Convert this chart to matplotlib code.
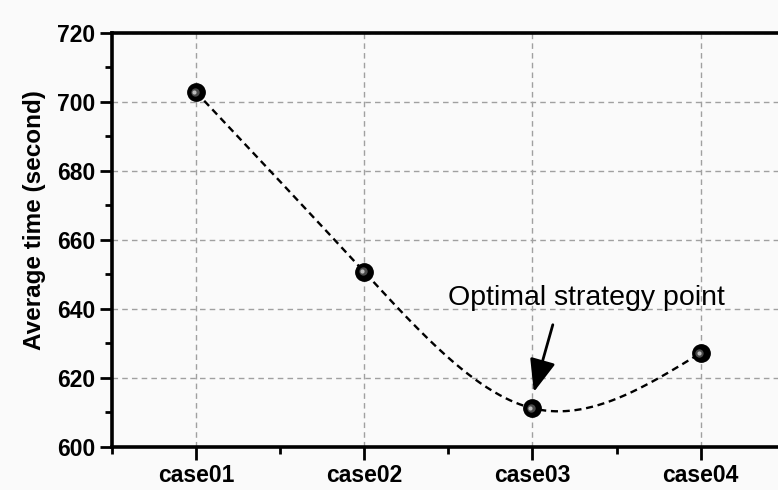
import matplotlib
matplotlib.use('Agg')

import numpy as np
import matplotlib.pyplot as plt
from matplotlib.transforms import offset_copy

# average run time per case
cases = ['case01', 'case02', 'case03', 'case04']
avg_time = [702.8, 650.7, 611.2, 627.2]

y_ticks = [600, 620, 640, 660, 680, 700, 720]

plt.rcParams['font.family'] = ['Liberation Sans', 'DejaVu Sans']


def natural_spline(x, y, xs):
    # natural cubic spline, evaluated at xs
    x = np.asarray(x, float)
    y = np.asarray(y, float)
    n = len(x)
    h = np.diff(x)
    A = np.zeros((n, n))
    b = np.zeros(n)
    A[0, 0] = A[-1, -1] = 1
    for i in range(1, n - 1):
        A[i, i - 1] = h[i - 1]
        A[i, i] = 2 * (h[i - 1] + h[i])
        A[i, i + 1] = h[i]
        b[i] = 6 * ((y[i + 1] - y[i]) / h[i] - (y[i] - y[i - 1]) / h[i - 1])
    M = np.linalg.solve(A, b)
    idx = np.clip(np.searchsorted(x, xs) - 1, 0, n - 2)
    x0, x1 = x[idx], x[idx + 1]
    hi = x1 - x0
    return (M[idx] * (x1 - xs) ** 3 / (6 * hi) + M[idx + 1] * (xs - x0) ** 3 / (6 * hi)
            + (y[idx] / hi - M[idx] * hi / 6) * (x1 - xs)
            + (y[idx + 1] / hi - M[idx + 1] * hi / 6) * (xs - x0))


fig = plt.figure(figsize=(7.78, 4.90), dpi=100, facecolor='#fafafa')
ax = fig.add_axes([0.144, 0.088, 0.856, 0.845])
ax.set_facecolor('#fafafa')

x = np.arange(1, len(cases) + 1)

xs = np.linspace(x[0], x[-1], 400)
ax.plot(xs, natural_spline(x, avg_time, xs), color='black', lw=1.7,
        ls=(0, (3, 2)), zorder=3)

# shaded ball markers
ax.plot(x, avg_time, 'o', ms=12.5, color='black', zorder=4)
hl1 = offset_copy(ax.transData, fig=fig, x=-1.5, y=0.5, units='dots')
ax.plot(x, avg_time, 'o', ms=6, color='#4a4a4a', mew=0, transform=hl1, zorder=5)
hl2 = offset_copy(ax.transData, fig=fig, x=-2, y=0.5, units='dots')
ax.plot(x, avg_time, 'o', ms=3, color='#bbbbbb', mew=0, transform=hl2, zorder=6)

ax.set_xlim(0.5, 4.46)
ax.set_ylim(600, 720)
ax.set_xticks(x)
ax.set_xticklabels(cases, fontsize=16.5, fontweight='bold')
ax.set_xticks([0.5, 1.5, 2.5, 3.5], minor=True)
ax.set_yticks(y_ticks)
ax.set_yticklabels([str(v) for v in y_ticks], fontsize=16.5, fontweight='bold')
ax.set_yticks(np.arange(610, 720, 20), minor=True)

ax.tick_params(which='major', direction='out', length=9, width=2, pad=3)
ax.tick_params(which='minor', direction='out', length=5, width=2)

for side in ['left', 'bottom', 'top']:
    ax.spines[side].set_linewidth(2.6)
ax.spines['right'].set_visible(False)

ax.grid(True, which='major', color='#a0a0a0', ls=(0, (4, 3)), lw=1)
ax.set_axisbelow(True)

ax.set_ylabel('Average time (second)', fontsize=17.5, fontweight='bold')
ax.yaxis.set_label_coords(-0.099, 0.548)

ax.annotate('', xy=(3.008, 615.9), xytext=(3.121, 635.4),
            arrowprops=dict(arrowstyle='-|>,head_length=2.0,head_width=0.8',
                            color='black', lw=2, shrinkA=0, shrinkB=0), zorder=7)
ax.text(2.497, 641.2, 'Optimal strategy point', fontsize=20.5,
        ha='left', va='baseline', zorder=7)

plt.savefig('out.png', dpi=100, facecolor=fig.get_facecolor())
plt.close()
